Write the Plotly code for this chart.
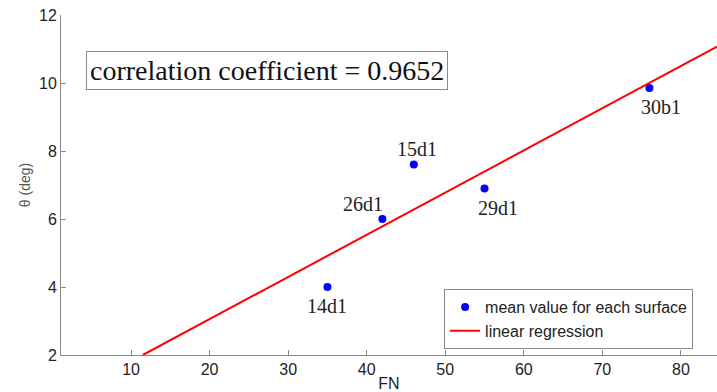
import plotly.graph_objects as go

# ---- data ----
fn_values = [35, 42, 46, 55, 76]
theta_values = [4.0, 6.0, 7.6, 6.9, 9.85]
surface_labels = ["14d1", "26d1", "15d1", "29d1", "30b1"]

regression_fn = [11.5, 84.6]
regression_theta = [2.0, 11.07]

x_tick_values = [10, 20, 30, 40, 50, 60, 70, 80]
y_tick_values = [2, 4, 6, 8, 10, 12]

correlation_text = "correlation coefficient = 0.9652"

# ---- styling ----
AX = "#8a8a8a"
TXT = "#222222"
SANS = "Liberation Sans, Arial, sans-serif"
SERIF = "Liberation Serif, Times New Roman, serif"
x_range = [1.08, 84.6]
y_range = [2, 12]

# pixel offsets of point labels (xshift, yshift)
label_offsets = [(0, -19), (-19, 15), (3, 16), (13, -20), (12, -19)]

fig = go.Figure()
fig.add_trace(go.Scatter(
    x=fn_values, y=theta_values, mode="markers",
    name="mean value for each surface",
    marker=dict(color="#0000ff", size=8),
))
fig.add_trace(go.Scatter(
    x=regression_fn, y=regression_theta, mode="lines",
    name="linear regression",
    line=dict(color="#ff0000", width=2),
))

for xv, yv, lab, (dx, dy) in zip(fn_values, theta_values, surface_labels, label_offsets):
    fig.add_annotation(x=xv, y=yv, xref="x", yref="y", text=lab, showarrow=False,
                       xshift=dx, yshift=dy,
                       font=dict(family=SERIF, size=20, color=TXT))

fig.add_annotation(x=0.314, y=0.837, xref="paper", yref="paper", text=correlation_text,
                   showarrow=False, xanchor="center", yanchor="middle",
                   font=dict(family=SERIF, size=28, color="#111111"),
                   bordercolor=AX, borderwidth=1, borderpad=3, bgcolor="white")

axis_common = dict(showgrid=False, zeroline=False, ticks="inside", ticklen=5,
                   tickcolor=AX, tickwidth=1, linecolor=AX, linewidth=1,
                   automargin=False)

fig.update_layout(
    width=717, height=392,
    margin=dict(l=61, r=0, t=15, b=37),
    paper_bgcolor="white", plot_bgcolor="white",
    showlegend=True,
    legend=dict(x=0.584, y=0.194, xanchor="left", yanchor="top",
                bgcolor="white", bordercolor=AX, borderwidth=1,
                font=dict(family=SANS, size=16, color=TXT),
                itemwidth=30, tracegroupgap=0),
    xaxis=dict(range=x_range, tickvals=x_tick_values, showline=True, mirror=False,
               tickfont=dict(family=SANS, size=16, color=TXT),
               title=dict(text="FN", font=dict(family=SANS, size=16, color=TXT), standoff=0),
               **axis_common),
    xaxis2=dict(range=x_range, tickvals=x_tick_values, overlaying="x", side="top",
                anchor="y", showline=True, showticklabels=False, **axis_common),
    yaxis=dict(range=y_range, tickvals=y_tick_values, showline=True, mirror=False,
               tickfont=dict(family=SANS, size=16, color=TXT),
               title=dict(text="θ (deg)", font=dict(family=SANS, size=14, color="#555555"), standoff=5),
               **axis_common),
    yaxis2=dict(range=y_range, tickvals=y_tick_values, overlaying="y", side="right",
                anchor="x", showline=False, showticklabels=False, **axis_common),
)

fig.write_html("out.html", config={"displayModeBar": False},
               post_script="document.body.style.margin='0';document.body.style.padding='0';")
